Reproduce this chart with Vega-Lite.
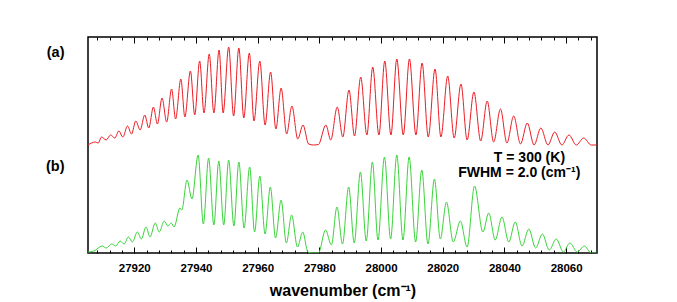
{
  "$schema": "https://vega.github.io/schema/vega-lite/v6.json",
  "autosize": {"type": "none"},
  "padding": {"left": 88, "top": 37, "right": 80, "bottom": 49},
  "width": 509,
  "height": 216,
  "config": {
    "font": "Liberation Sans",
    "view": {"stroke": "#000", "strokeWidth": 1.5}
  },
  "resolve": {"axis": {"x": "independent"}},
  "layer": [
    {
      "data": {"values": [
        {"s":"a","x":27905.0,"y":1.08},{"s":"a","x":27907.4,"y":1.11},{"s":"a","x":27908.3,"y":1.10},{"s":"a","x":27909.4,"y":1.16},
        {"s":"a","x":27910.9,"y":1.13},{"s":"a","x":27912.3,"y":1.18},{"s":"a","x":27913.7,"y":1.15},{"s":"a","x":27915.0,"y":1.22},
        {"s":"a","x":27916.3,"y":1.16},{"s":"a","x":27917.8,"y":1.27},{"s":"a","x":27919.1,"y":1.19},{"s":"a","x":27920.5,"y":1.32},
        {"s":"a","x":27921.9,"y":1.23},{"s":"a","x":27923.4,"y":1.38},{"s":"a","x":27924.7,"y":1.25},{"s":"a","x":27926.2,"y":1.46},
        {"s":"a","x":27927.5,"y":1.29},{"s":"a","x":27929.0,"y":1.55},{"s":"a","x":27930.5,"y":1.31},{"s":"a","x":27932.1,"y":1.64},
        {"s":"a","x":27933.4,"y":1.34},{"s":"a","x":27935.1,"y":1.74},{"s":"a","x":27936.4,"y":1.36},{"s":"a","x":27938.2,"y":1.82},
        {"s":"a","x":27939.6,"y":1.38},{"s":"a","x":27941.2,"y":1.92},{"s":"a","x":27942.6,"y":1.40},{"s":"a","x":27944.3,"y":1.99},
        {"s":"a","x":27945.8,"y":1.40},{"s":"a","x":27947.5,"y":2.03},{"s":"a","x":27948.8,"y":1.40},{"s":"a","x":27950.6,"y":2.06},
        {"s":"a","x":27952.2,"y":1.37},{"s":"a","x":27953.9,"y":2.05},{"s":"a","x":27955.5,"y":1.35},{"s":"a","x":27957.3,"y":2.00},
        {"s":"a","x":27958.8,"y":1.32},{"s":"a","x":27960.7,"y":1.92},{"s":"a","x":27962.4,"y":1.28},{"s":"a","x":27964.2,"y":1.81},
        {"s":"a","x":27965.9,"y":1.24},{"s":"a","x":27967.6,"y":1.65},{"s":"a","x":27969.4,"y":1.19},{"s":"a","x":27971.1,"y":1.47},
        {"s":"a","x":27973.0,"y":1.14},{"s":"a","x":27974.7,"y":1.28},{"s":"a","x":27976.5,"y":1.09},{"s":"a","x":27978.1,"y":1.08},
        {"s":"a","x":27979.7,"y":1.085},{"s":"a","x":27982.1,"y":1.28},{"s":"a","x":27983.7,"y":1.13},{"s":"a","x":27985.8,"y":1.46},
        {"s":"a","x":27987.6,"y":1.16},{"s":"a","x":27989.6,"y":1.63},{"s":"a","x":27991.4,"y":1.17},{"s":"a","x":27993.4,"y":1.76},
        {"s":"a","x":27995.4,"y":1.18},{"s":"a","x":27997.3,"y":1.86},{"s":"a","x":27999.3,"y":1.18},{"s":"a","x":28001.2,"y":1.92},
        {"s":"a","x":28003.2,"y":1.18},{"s":"a","x":28005.1,"y":1.94},{"s":"a","x":28007.2,"y":1.18},{"s":"a","x":28009.2,"y":1.94},
        {"s":"a","x":28011.3,"y":1.18},{"s":"a","x":28013.3,"y":1.90},{"s":"a","x":28015.3,"y":1.16},{"s":"a","x":28017.5,"y":1.84},
        {"s":"a","x":28019.4,"y":1.16},{"s":"a","x":28021.6,"y":1.77},{"s":"a","x":28023.7,"y":1.15},{"s":"a","x":28025.9,"y":1.69},
        {"s":"a","x":28027.9,"y":1.13},{"s":"a","x":28030.1,"y":1.61},{"s":"a","x":28032.3,"y":1.12},{"s":"a","x":28034.4,"y":1.52},
        {"s":"a","x":28036.5,"y":1.11},{"s":"a","x":28038.7,"y":1.44},{"s":"a","x":28040.8,"y":1.10},{"s":"a","x":28043.0,"y":1.37},
        {"s":"a","x":28045.2,"y":1.09},{"s":"a","x":28047.4,"y":1.30},{"s":"a","x":28049.6,"y":1.08},{"s":"a","x":28051.8,"y":1.25},
        {"s":"a","x":28054.1,"y":1.08},{"s":"a","x":28056.3,"y":1.21},{"s":"a","x":28058.6,"y":1.08},{"s":"a","x":28060.9,"y":1.18},
        {"s":"a","x":28063.3,"y":1.08},{"s":"a","x":28065.7,"y":1.15},{"s":"a","x":28068.1,"y":1.08},{"s":"a","x":28069.9,"y":1.08},
        {"s":"b","x":27905.0,"y":0.01},{"s":"b","x":27906.9,"y":0.02},{"s":"b","x":27909.6,"y":0.07},{"s":"b","x":27910.9,"y":0.05},
        {"s":"b","x":27912.7,"y":0.09},{"s":"b","x":27914.0,"y":0.07},{"s":"b","x":27915.4,"y":0.12},{"s":"b","x":27916.7,"y":0.09},
        {"s":"b","x":27918.1,"y":0.16},{"s":"b","x":27919.4,"y":0.11},{"s":"b","x":27921.0,"y":0.21},{"s":"b","x":27922.3,"y":0.14},
        {"s":"b","x":27923.8,"y":0.26},{"s":"b","x":27925.1,"y":0.16},{"s":"b","x":27926.8,"y":0.30},{"s":"b","x":27928.1,"y":0.21},
        {"s":"b","x":27929.7,"y":0.32},{"s":"b","x":27930.9,"y":0.27},{"s":"b","x":27932.0,"y":0.30},{"s":"b","x":27932.9,"y":0.26},
        {"s":"b","x":27934.8,"y":0.45},{"s":"b","x":27935.4,"y":0.43},{"s":"b","x":27937.1,"y":0.73},{"s":"b","x":27938.7,"y":0.54},
        {"s":"b","x":27940.7,"y":0.98},{"s":"b","x":27942.4,"y":0.29},{"s":"b","x":27944.1,"y":0.95},{"s":"b","x":27945.8,"y":0.28},
        {"s":"b","x":27947.4,"y":0.92},{"s":"b","x":27949.0,"y":0.28},{"s":"b","x":27950.6,"y":0.93},{"s":"b","x":27952.3,"y":0.27},
        {"s":"b","x":27953.9,"y":0.91},{"s":"b","x":27955.6,"y":0.25},{"s":"b","x":27957.4,"y":0.86},{"s":"b","x":27959.0,"y":0.21},
        {"s":"b","x":27960.7,"y":0.77},{"s":"b","x":27962.4,"y":0.19},{"s":"b","x":27964.1,"y":0.66},{"s":"b","x":27965.8,"y":0.15},
        {"s":"b","x":27967.6,"y":0.53},{"s":"b","x":27969.3,"y":0.10},{"s":"b","x":27971.0,"y":0.38},{"s":"b","x":27972.9,"y":0.06},
        {"s":"b","x":27974.6,"y":0.21},{"s":"b","x":27976.3,"y":0.01},{"s":"b","x":27978.1,"y":0.00},{"s":"b","x":27979.7,"y":0.00},
        {"s":"b","x":27982.0,"y":0.23},{"s":"b","x":27983.9,"y":0.08},{"s":"b","x":27985.7,"y":0.46},{"s":"b","x":27987.5,"y":0.09},
        {"s":"b","x":27989.5,"y":0.66},{"s":"b","x":27991.3,"y":0.10},{"s":"b","x":27993.3,"y":0.81},{"s":"b","x":27995.2,"y":0.12},
        {"s":"b","x":27997.2,"y":0.91},{"s":"b","x":27999.0,"y":0.13},{"s":"b","x":28001.1,"y":0.96},{"s":"b","x":28003.1,"y":0.14},
        {"s":"b","x":28005.1,"y":0.98},{"s":"b","x":28007.1,"y":0.13},{"s":"b","x":28009.1,"y":0.96},{"s":"b","x":28011.2,"y":0.11},
        {"s":"b","x":28013.2,"y":0.83},{"s":"b","x":28015.2,"y":0.09},{"s":"b","x":28017.3,"y":0.74},{"s":"b","x":28019.2,"y":0.14},
        {"s":"b","x":28021.2,"y":0.51},{"s":"b","x":28023.4,"y":0.11},{"s":"b","x":28025.7,"y":0.32},{"s":"b","x":28027.9,"y":0.06},
        {"s":"b","x":28030.3,"y":0.67},{"s":"b","x":28033.0,"y":0.21},{"s":"b","x":28034.9,"y":0.40},{"s":"b","x":28037.0,"y":0.13},
        {"s":"b","x":28039.2,"y":0.36},{"s":"b","x":28041.4,"y":0.11},{"s":"b","x":28043.5,"y":0.31},{"s":"b","x":28045.7,"y":0.07},
        {"s":"b","x":28047.9,"y":0.24},{"s":"b","x":28050.1,"y":0.05},{"s":"b","x":28052.3,"y":0.19},{"s":"b","x":28054.5,"y":0.03},
        {"s":"b","x":28056.8,"y":0.14},{"s":"b","x":28059.1,"y":0.01},{"s":"b","x":28061.2,"y":0.10},{"s":"b","x":28063.6,"y":0.01},
        {"s":"b","x":28065.9,"y":0.07},{"s":"b","x":28068.1,"y":0.00},{"s":"b","x":28069.9,"y":0.00}
      ]},
      "mark": {"type": "line", "interpolate": "monotone", "strokeWidth": 1, "clip": true},
      "encoding": {
        "x": {
          "field": "x", "type": "quantitative",
          "scale": {"domain": [27905, 28070], "nice": false, "zero": false},
          "axis": {
            "orient": "bottom",
            "values": [27908,27912,27916,27920,27924,27928,27932,27936,27940,27944,27948,27952,27956,27960,27964,27968,27972,27976,27980,27984,27988,27992,27996,28000,28004,28008,28012,28016,28020,28024,28028,28032,28036,28040,28044,28048,28052,28056,28060,28064,28068],
            "format": "d",
            "labelExpr": "datum.value % 20 === 0 ? datum.label : ''",
            "tickSize": {"condition": {"test": "datum.value % 20 === 0", "value": -6}, "value": -3},
            "tickColor": "#000",
            "tickWidth": 1,
            "domain": false,
            "grid": false,
            "labelFlush": false,
            "labelOverlap": false,
            "labelPadding": 15,
            "labelFontSize": 11.5,
            "labelFontWeight": "bold",
            "labelColor": "#000",
            "title": "wavenumber (cm⁻¹)",
            "titleFontSize": 16,
            "titleFontWeight": "bold",
            "titleColor": "#000",
            "titlePadding": 6
          }
        },
        "y": {
          "field": "y", "type": "quantitative",
          "scale": {"domain": [0, 2.16], "nice": false, "zero": false},
          "axis": {
            "orient": "left",
            "values": [2.01, 0.87],
            "labelExpr": "datum.value > 1.5 ? '(a)' : '(b)'",
            "ticks": false,
            "domain": false,
            "grid": false,
            "labelPadding": 24,
            "labelFontSize": 14.5,
            "labelFontWeight": "bold",
            "labelColor": "#000",
            "labelBaseline": "middle",
            "title": null
          }
        },
        "color": {
          "field": "s", "type": "nominal",
          "scale": {"domain": ["a", "b"], "range": ["#ec1c24", "#3ad43a"]},
          "legend": null
        }
      }
    },
    {
      "data": {"values": [
        {"x": 28048.1, "y": 0.912, "t": "T = 300 (K)"},
        {"x": 28044.8, "y": 0.763, "t": "FWHM = 2.0 (cm⁻¹)"}
      ]},
      "mark": {"type": "text", "align": "center", "baseline": "alphabetic", "fontSize": 14, "fontWeight": "bold", "color": "#000"},
      "encoding": {
        "x": {
          "field": "x", "type": "quantitative",
          "axis": {
            "orient": "top",
            "values": [27908,27912,27916,27920,27924,27928,27932,27936,27940,27944,27948,27952,27956,27960,27964,27968,27972,27976,27980,27984,27988,27992,27996,28000,28004,28008,28012,28016,28020,28024,28028,28032,28036,28040,28044,28048,28052,28056,28060,28064,28068],
            "labels": false,
            "tickSize": {"condition": {"test": "datum.value % 20 === 0", "value": -6}, "value": -3},
            "tickColor": "#000",
            "tickWidth": 1,
            "domain": false,
            "grid": false,
            "title": null
          }
        },
        "y": {
          "field": "y", "type": "quantitative",
          "axis": {
            "orient": "left",
            "values": [2.01, 0.87],
            "labelExpr": "datum.value > 1.5 ? '(a)' : '(b)'",
            "ticks": false,
            "domain": false,
            "grid": false,
            "labelPadding": 24,
            "labelFontSize": 14.5,
            "labelFontWeight": "bold",
            "labelColor": "#000",
            "labelBaseline": "middle",
            "title": null
          }
        },
        "text": {"field": "t", "type": "nominal"}
      }
    }
  ]
}
